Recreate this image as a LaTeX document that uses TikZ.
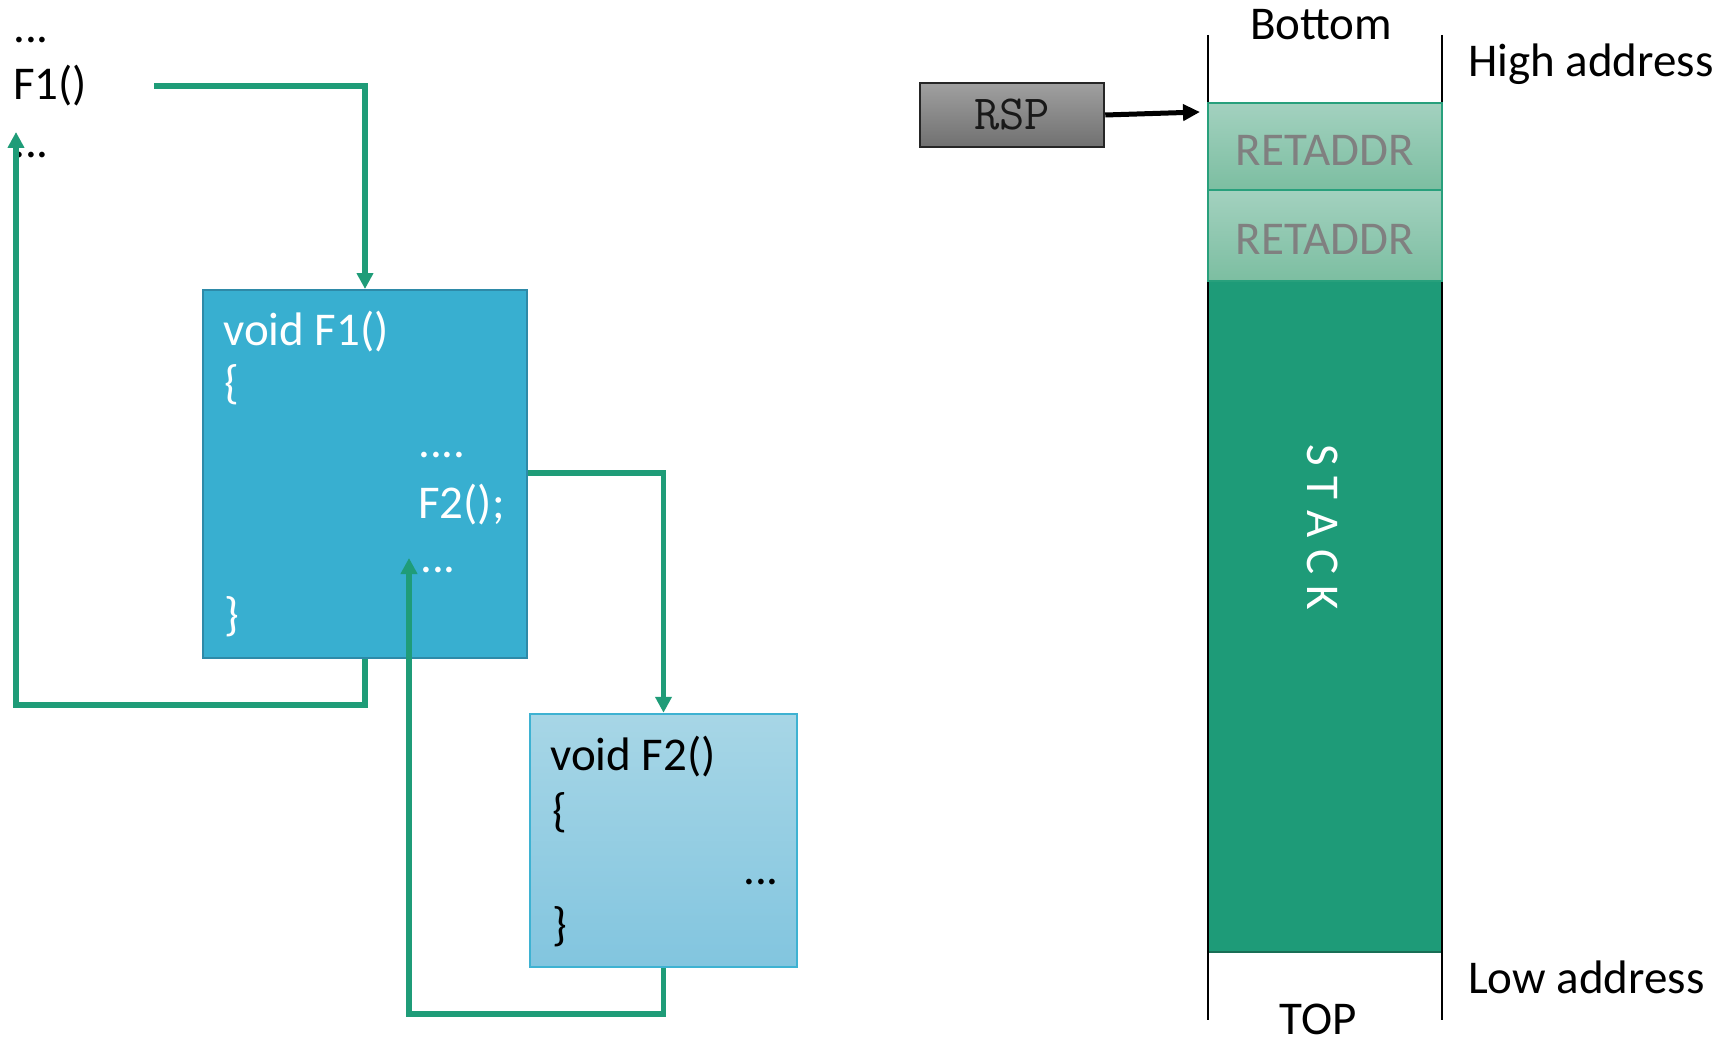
\documentclass[tikz,border=0pt]{standalone}
\usepackage{fontspec}
\setmainfont{Carlito}
\usetikzlibrary{arrows.meta}
\definecolor{conn}{RGB}{31,156,120}
\definecolor{fone}{RGB}{56,175,208}
\definecolor{foneborder}{RGB}{46,138,168}
\definecolor{ftwotop}{RGB}{167,214,230}
\definecolor{ftwobot}{RGB}{130,197,223}
\definecolor{ftwoborder}{RGB}{62,178,210}
\definecolor{rettop}{RGB}{163,209,191}
\definecolor{retbot}{RGB}{124,190,161}
\definecolor{retborder}{RGB}{40,160,124}
\definecolor{stackgreen}{RGB}{30,155,120}
\definecolor{stackborder}{RGB}{25,110,85}
\definecolor{rsptop}{RGB}{160,160,160}
\definecolor{rspbot}{RGB}{112,112,112}
\begin{document}
\begin{tikzpicture}[x=1pt,y=-1pt,
  bigfont/.style={font=\fontsize{47}{56}\selectfont},
  txt/.style={bigfont, inner sep=0pt, anchor=base west},
  ctxt/.style={bigfont, inner sep=0pt, anchor=base},
  flow/.style={draw=conn, line width=5.5pt, -{Triangle[length=16pt,width=16pt]}},
  f1box/.style={draw=foneborder, fill=fone, line width=2pt, inner sep=0pt},
  f2box/.style={draw=ftwoborder, top color=ftwotop, bottom color=ftwobot, line width=2.5pt, inner sep=0pt},
  retbox/.style={draw=retborder, top color=rettop, bottom color=retbot, line width=2.5pt, inner sep=0pt,
    minimum width=234pt, text=black!50, bigfont, text height=38pt, text depth=0pt},
  stackbox/.style={draw=stackborder, fill=stackgreen, line width=1.5pt, inner sep=0pt, minimum width=234pt},
  rspbox/.style={draw=black!85, top color=rsptop, bottom color=rspbot, line width=2.5pt, inner sep=0pt,
    minimum width=184pt, minimum height=64pt, text=black!90, font=\ttfamily\fontsize{49}{56}\selectfont},
  stackline/.style={draw=black, line width=2.5pt}
]
\useasboundingbox (0,0) rectangle (1734,1043);
\fill[white] (0,0) rectangle (1734,1043);

% left caller text
\node[txt] (dotsa) at (13,43) {...};
\node[txt] (callf1) at (13,100) {F1()};
\node[txt] (dotsb) at (13,158) {...};

% F1 box
\node[f1box, minimum width=324pt, minimum height=368pt] (f1) at (365,474) {};
\node[txt, text=white] (f1a) at (223,345) {void F1()};
\node[txt, text=white] (f1b) at (224,398) {\{};
\node[txt, text=white] (f1c) at (418,457) {....};
\node[txt, text=white] (f1d) at (418,518) {F2();};
\node[txt, text=white] (f1e) at (420,572) {...};
\node[txt, text=white] (f1f) at (224,630) {\}};

% F2 box
\node[f2box, minimum width=267pt, minimum height=253pt] (f2) at (663.5,840.5) {};
\node[txt] (f2a) at (550,770) {void F2()};
\node[txt] (f2b) at (552,826) {\{};
\node[txt] (f2c) at (743,884) {...};
\node[txt] (f2d) at (552,940) {\}};

% connectors
\coordinate (c1s) at (154,86);
\coordinate (f2ret) at (409,558);
\coordinate (f1ret) at (16,132);
\draw[flow] (c1s) -| (f1.north);
\draw[flow] (f1.east |- 0,473) -| (f2.north);
\draw[flow] (f2.south) -- (f2.south |- 0,1014) -| (f2ret);
\draw[flow] (f1.south) -- (f1.south |- 0,705) -| (f1ret);

% stack
\coordinate (sla) at (1208,35);
\coordinate (slb) at (1208,1020);
\coordinate (sra) at (1442,35);
\coordinate (srb) at (1442,1020);
\node[stackbox, minimum height=671pt] (stk) at (1325,616.5) {};
\draw[stackline] (sla) -- (slb);
\draw[stackline] (sra) -- (srb);
\node[retbox, minimum height=87pt] (ret1) at (1325,146.5) {RETADDR};
\node[retbox, minimum height=91pt] (ret2) at (1325,235.5) {RETADDR};
\node[bigfont, text=white, rotate=-90, inner sep=0pt] (stklbl) at (1323,527)
  {S\hspace{11pt}T\hspace{11pt}A\hspace{11pt}C\hspace{11pt}K};

\node[ctxt] (bottom) at (1321,40) {Bottom};
\node[ctxt] (top) at (1318,1034) {TOP};
\node[txt] (high) at (1468,77) {High address};
\node[txt] (low) at (1468,993) {Low address};

% RSP
\node[rspbox] (rsp) at (1012,115) {RSP};
\coordinate (rspt) at (1200,112);
\draw[black, line width=5pt, -{Triangle[length=17pt,width=16pt]}] (rsp.east) -- (rspt);
\end{tikzpicture}
\end{document}
